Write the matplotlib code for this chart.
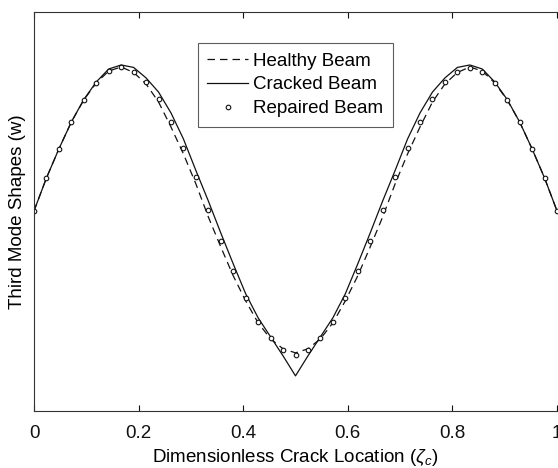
import matplotlib
matplotlib.use('Agg')
import matplotlib.pyplot as plt

plt.rcParams['font.family'] = ['Liberation Sans', 'DejaVu Sans']
plt.rcParams['mathtext.fontset'] = 'custom'
plt.rcParams['mathtext.rm'] = 'Liberation Sans'
plt.rcParams['mathtext.it'] = 'Liberation Sans:italic'

# crack location, 43 points from 0 to 1
x = [i / 42 for i in range(43)]

healthy = [
    0.000, 0.229, 0.431, 0.618, 0.771, 0.889, 0.972, 1.000, 0.962, 0.882,
    0.757, 0.583, 0.396, 0.188, -0.042, -0.250, -0.451, -0.625, -0.778,
    -0.889, -0.958, -0.986, -0.958, -0.889, -0.778, -0.625, -0.451, -0.250,
    -0.042, 0.188, 0.396, 0.583, 0.757, 0.882, 0.962, 1.000, 0.972, 0.889,
    0.771, 0.618, 0.431, 0.229, 0.000
]
cracked = [
    0.000, 0.229, 0.431, 0.618, 0.774, 0.896, 0.986, 1.014, 0.997, 0.924,
    0.826, 0.681, 0.500, 0.281, 0.069, -0.153, -0.368, -0.576, -0.743,
    -0.875, -1.007, -1.146, -1.007, -0.875, -0.743, -0.576, -0.368, -0.153,
    0.069, 0.281, 0.500, 0.681, 0.826, 0.924, 0.997, 1.014, 0.986, 0.896,
    0.774, 0.618, 0.431, 0.229, 0.000
]
repaired = [
    0.000, 0.229, 0.431, 0.618, 0.771, 0.889, 0.972, 1.000, 0.965, 0.896,
    0.778, 0.618, 0.438, 0.234, 0.007, -0.208, -0.417, -0.604, -0.771,
    -0.882, -0.965, -1.003, -0.965, -0.882, -0.771, -0.604, -0.415, -0.206,
    0.007, 0.233, 0.440, 0.620, 0.778, 0.898, 0.965, 0.995, 0.965, 0.891,
    0.771, 0.618, 0.431, 0.229, 0.000
]
xticks = [0, 0.2, 0.4, 0.6, 0.8, 1]
xticklabels = ['0', '0.2', '0.4', '0.6', '0.8', '1']

fs = 13.5

fig = plt.figure(figsize=(5.58, 4.68), dpi=100)
ax = fig.add_axes([34 / 558, (468 - 411) / 468, 523 / 558, 399 / 468])

ax.plot(x, healthy, color='#111111', linestyle=(0, (6, 4)), linewidth=0.9,
        label='Healthy Beam')
ax.plot(x, cracked, color='#111111', linestyle='-', linewidth=0.9,
        label='Cracked Beam')
ax.plot(x, repaired, linestyle='none', marker='o', markersize=3.3,
        markerfacecolor='white', markeredgecolor='#111111',
        markeredgewidth=0.8, label='Repaired Beam')

ax.set_xlim(0, 1)
ax.set_ylim(-1.39, 1.382)
ax.set_xticks(xticks)
ax.set_xticklabels(xticklabels, fontsize=fs)
ax.set_yticks([])
ax.tick_params(axis='x', direction='in', length=4, width=0.8,
               top=True, pad=10, colors='#111111')
ax.spines['right'].set_visible(False)
for s in ['left', 'top', 'bottom']:
    ax.spines[s].set_linewidth(0.8)
    ax.spines[s].set_color('#333333')

ax.set_xlabel(r'Dimensionless Crack Location ($\zeta_c$)', fontsize=fs,
              labelpad=4)
ax.set_ylabel('Third Mode Shapes (w)', fontsize=fs, labelpad=6)

leg = ax.legend(loc='upper left', bbox_to_anchor=(164 / 523, 0.922),
                fontsize=fs, frameon=True, fancybox=False,
                handlelength=2.15, handletextpad=0.3, borderpad=0.5,
                labelspacing=0.36, borderaxespad=0)
leg.get_frame().set_edgecolor('#333333')
leg.get_frame().set_linewidth(0.8)

fig.savefig('out.png', dpi=100)
